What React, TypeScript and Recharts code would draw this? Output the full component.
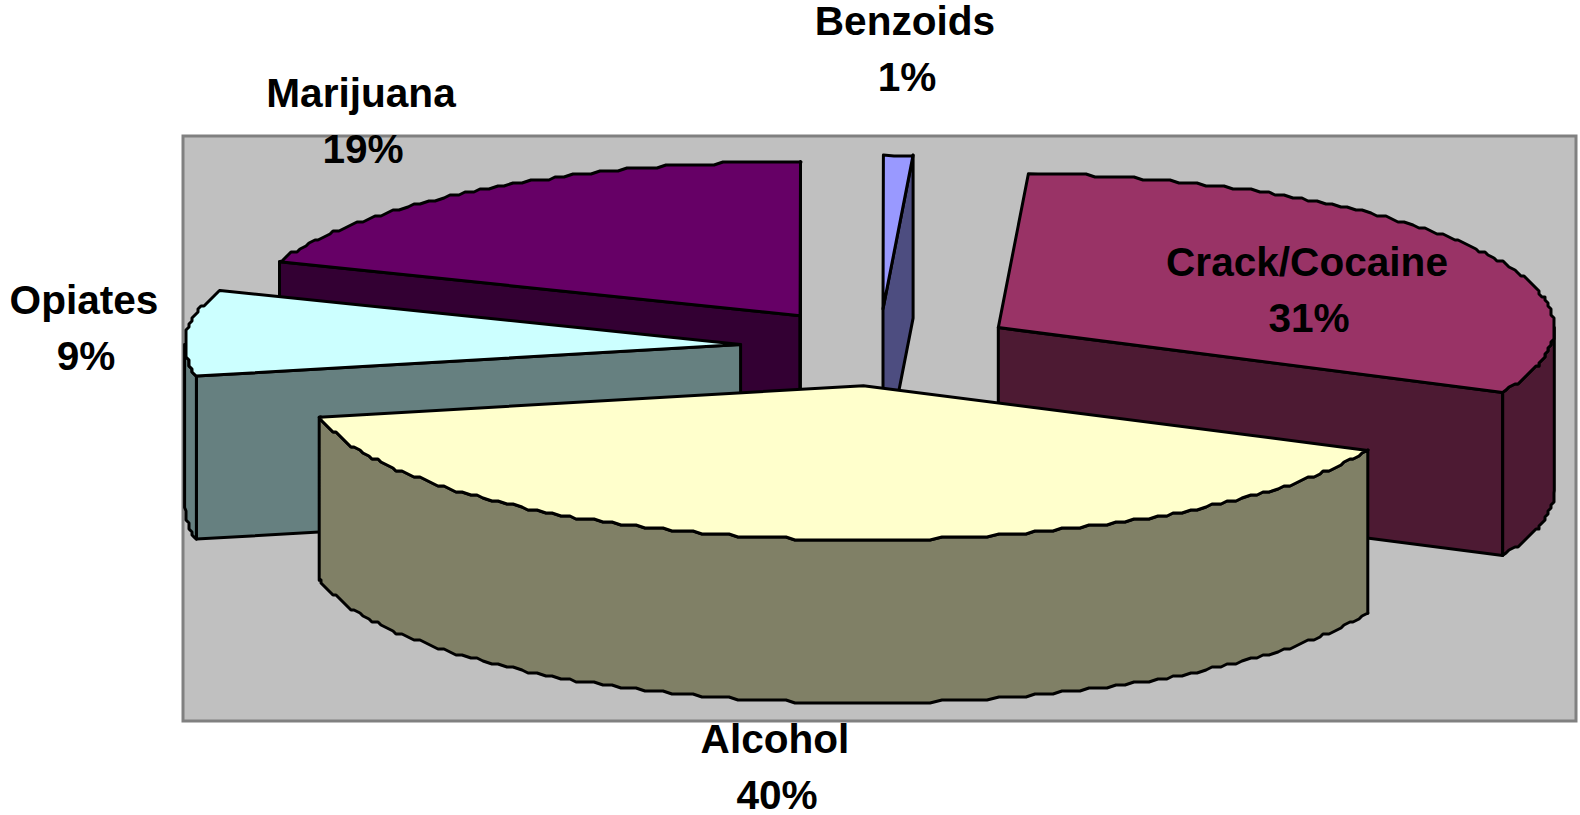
import React from "react";
import { PieChart, Pie } from "recharts";

const names = ["Crack/Cocaine", "Alcohol", "Opiates", "Marijuana", "Benzoids"];
const shares = [31.05, 39.8, 9, 19.3, 0.85];
const topColors = ["#993366", "#FFFFCC", "#CCFFFF", "#660066", "#9999FF"];
const wallColors = ["#4D1A33", "#808066", "#668080", "#330033", "#4D4D80"];

// back to front, the library paints sectors in data order otherwise
const paintOrder = ["Marijuana", "Benzoids", "Opiates", "Crack/Cocaine", "Alcohol"];

// label centre x, first baseline y
const labelSpots: Record<string, [number, number]> = {
  "Crack/Cocaine": [1307, 276],
  Alcohol: [775, 753],
  Opiates: [84, 314],
  Marijuana: [361, 107],
  Benzoids: [905, 35],
};

const chartData = names.map((name, i) => ({
  name,
  value: shares[i],
  fill: topColors[i],
  wall: wallColors[i],
}));

const SQUASH = 0.277;
const DEPTH = 163;
const EXPLODE = 0.25;
const GRID = 3;
const rad = (d: number) => (d * Math.PI) / 180;
const snap = (v: number) => Math.round(v / GRID) * GRID;

function Slice(props: any) {
  const { cx, cy, outerRadius: r, startAngle, endAngle, midAngle, fill, wall } = props;
  // clockwise degrees from twelve o'clock
  const a = 90 - startAngle;
  const b = 90 - endAngle;
  const mid = rad(90 - midAngle);
  const ox = cx + EXPLODE * r * Math.sin(mid);
  const oy = cy - EXPLODE * r * SQUASH * Math.cos(mid);

  const at = (t: number) => [
    ox + r * Math.sin(rad(t)),
    oy - r * SQUASH * Math.cos(rad(t)),
  ];
  const arc = (from: number, to: number) => {
    const pts = [at(from)];
    for (let t = Math.floor(from) + 1; t < to; t += 1) {
      const [x, y] = at(t);
      pts.push([snap(x), snap(y)]);
    }
    pts.push(at(to));
    return pts;
  };
  const toPath = (pts: number[][]) =>
    "M" + pts.map((p) => p[0].toFixed(1) + "," + p[1].toFixed(1)).join("L") + "Z";
  const down = (pts: number[][]) => pts.map((p) => [p[0], p[1] + DEPTH]);

  const line = { stroke: "#000", strokeWidth: 3, strokeLinejoin: "round" as const };
  const apex = [ox, oy];
  const edge = (t: number) => {
    const pts = [apex, at(t)];
    return <path d={toPath([...pts, ...down(pts).reverse()])} fill={wall} {...line} />;
  };

  const wallFrom = Math.max(a, 90);
  const wallTo = Math.min(b, 270);

  return (
    <g>
      {Math.sin(rad(a)) < 0 && edge(a)}
      {Math.sin(rad(b)) > 0 && edge(b)}
      {wallFrom < wallTo && (
        <path
          d={toPath([...arc(wallFrom, wallTo), ...down(arc(wallFrom, wallTo)).reverse()])}
          fill={wall}
          {...line}
        />
      )}
      <path d={toPath([apex, ...arc(a, b)])} fill={fill} {...line} />
    </g>
  );
}

function SliceLabel(props: any) {
  const { name, percent } = props;
  const [x, y] = labelSpots[name];
  return (
    <text
      x={x}
      y={y}
      textAnchor="middle"
      fontFamily="'Liberation Sans', Arial, sans-serif"
      fontWeight="bold"
      fontSize={40.6}
      fill="#000"
    >
      <tspan x={x}>{name}</tspan>
      <tspan x={x + 2} y={y + 56}>
        {Math.round(percent * 100)}%
      </tspan>
    </text>
  );
}

export default function App() {
  return (
    <div style={{ position: "absolute", left: 0, top: 0, width: 1580, height: 815 }}>
      <PieChart width={1580} height={815} margin={{ top: 0, right: 0, bottom: 0, left: 0 }}>
        <rect x={183} y={136} width={1393} height={585} fill="#C0C0C0" stroke="#808080" strokeWidth={3} />
        {paintOrder.map((sliceName, i) => (
          <Pie
            key={sliceName}
            data={chartData}
            dataKey="value"
            nameKey="name"
            cx={879.2}
            cy={347.4}
            outerRadius={556}
            startAngle={86.9}
            endAngle={-273.1}
            isAnimationActive={false}
            labelLine={false}
            label={i === paintOrder.length - 1 ? SliceLabel : false}
            shape={(p: any) => (p.name === sliceName ? <Slice {...p} /> : <g />)}
          />
        ))}
      </PieChart>
    </div>
  );
}
